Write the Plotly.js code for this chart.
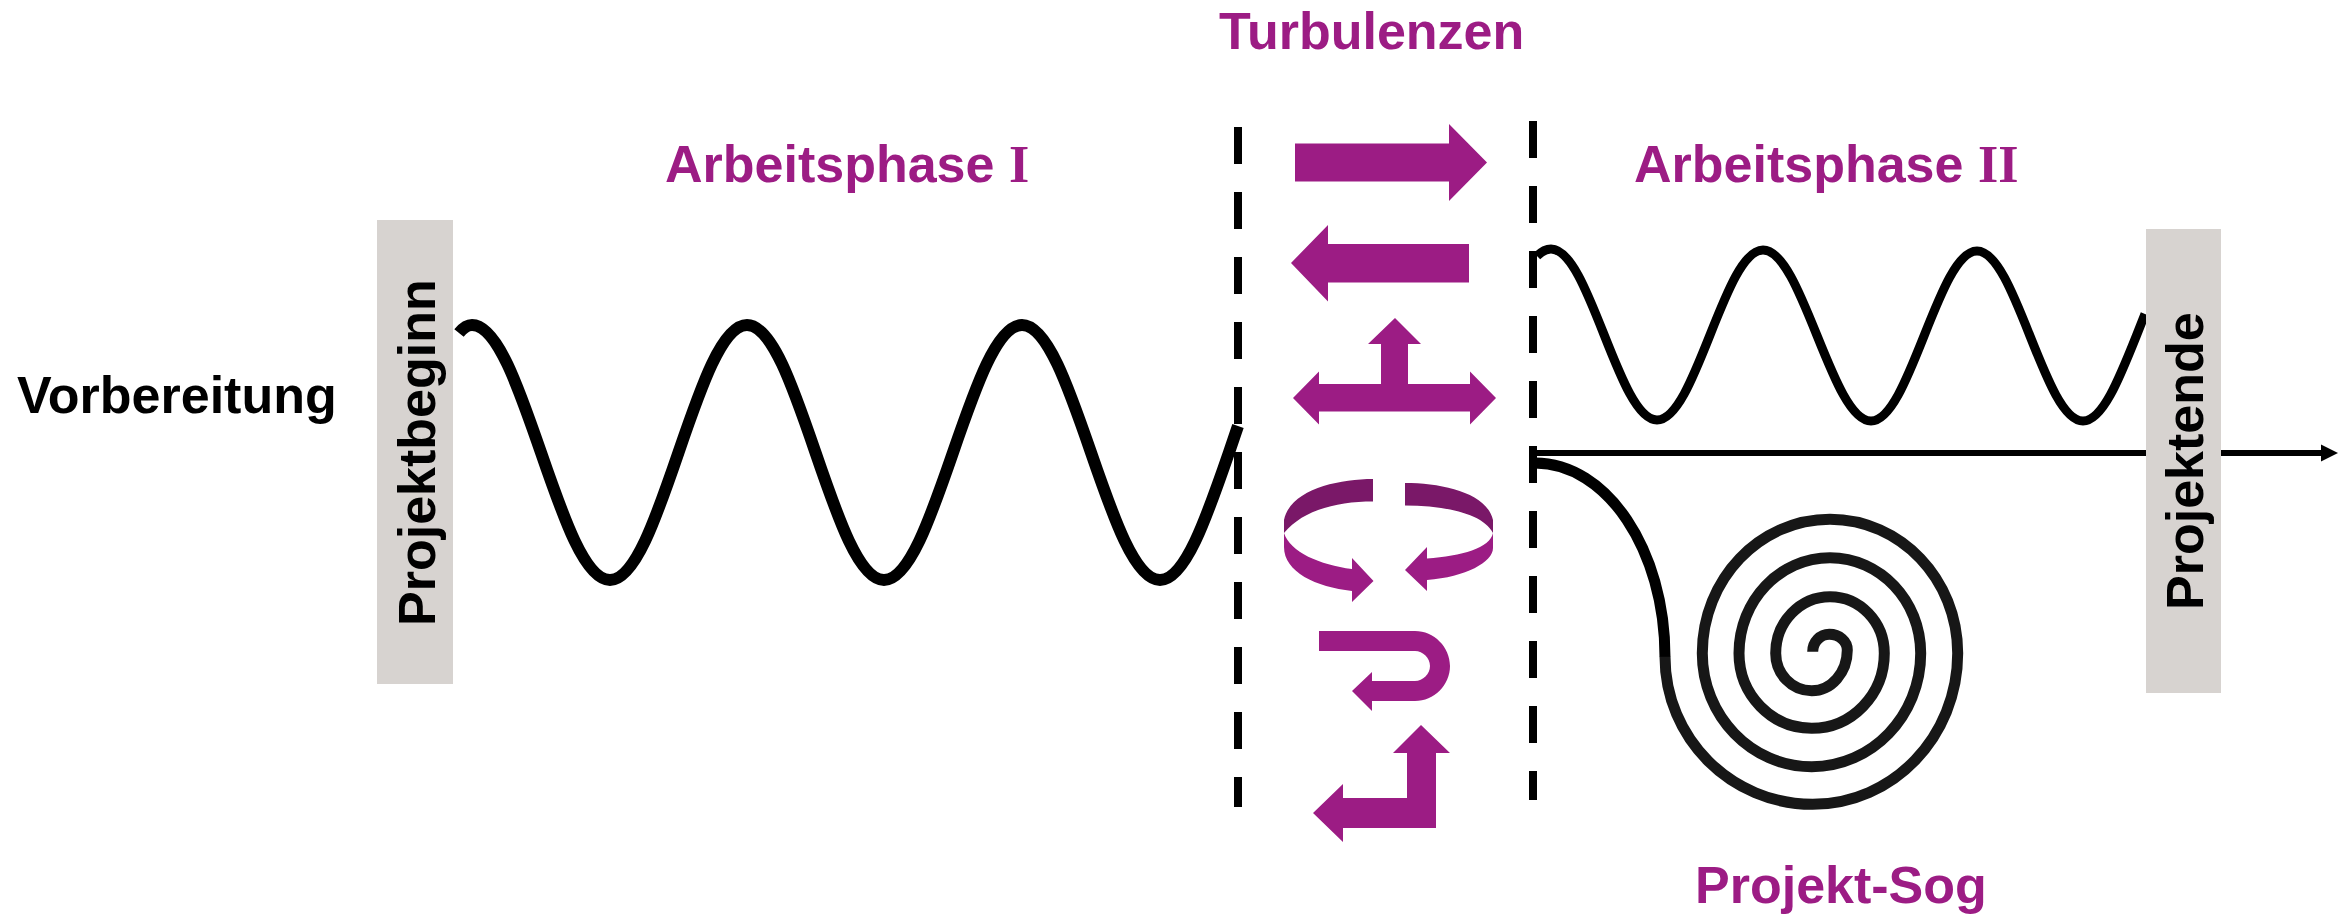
<!DOCTYPE html>
<html><head><meta charset="utf-8">
<script src="https://cdn.plot.ly/plotly-3.0.1.min.js"></script>
<style>html,body{margin:0;padding:0;background:#fff;overflow:hidden}#chart{width:2351px;height:916px}</style>
</head><body><div id="chart"></div>
<script>
// ---- values (pixel space of the 2351x916 canvas) ----
// Arbeitsphase I wave: start, alternating peaks/troughs, last inflection, end
const wave1Start = [459, 333];
const wave1ExtX = [472, 610, 747, 884, 1022, 1160];
const wave1ExtY = [325, 580, 325, 580, 325, 580];
const wave1Tail = [[1229, 452.5], [1238, 426]];
// Arbeitsphase II wave
const wave2Start = [1537, 256];
const wave2ExtX = [1551, 1657, 1763, 1871, 1977, 2083];
const wave2ExtY = [249, 420, 250, 421, 251, 421];
const wave2Tail = [[2136.5, 335.5], [2145, 314]];
// Projekt-Sog: curve from the boundary down into the spiral
const sogX = [1535, 1665];
const sogY = [463, 657];
// spiral: quarter-turn points (left, bottom, right, top, ...)
const spiralX = [1665, 1812.7, 1957.7, 1830, 1702.3, 1811.7, 1920.7, 1830, 1739, 1811.7, 1884.3, 1830, 1775.7, 1811.7, 1847.3, 1829.3, 1812.7];
const spiralY = [656.7, 804.3, 653.3, 519.3, 653.3, 766.7, 653.3, 557.7, 653.3, 728.3, 653.3, 596.7, 653.3, 690.7, 650, 634.3, 651.7];
// Zeitachse (time axis)
const axisStartX = 1533, axisEndX = 2338, axisY = 453;
// Phase boundaries (dashed)
const boundaryX = [1238, 1533];
const boundaryTop = [127, 121];
const boundaryBottom = [807, 800];
// Milestone bars
const barLabels = ['Projektbeginn', 'Projektende'];
const barX0 = [377, 2146], barX1 = [453, 2221], barY0 = [220, 229], barY1 = [684, 693];
const barLabelX = [417, 2185], barLabelY = [453, 461];
// Text labels
const labelTexts = ['Turbulenzen', 'Arbeitsphase <span style="font-family:Liberation Serif, Times New Roman, serif">I</span>',
  'Arbeitsphase <span style="font-family:Liberation Serif, Times New Roman, serif">II</span>', 'Projekt-Sog', 'Vorbereitung'];
const labelX = [1371, 847, 1826, 1841, 177];
const labelY = [31, 164, 164, 885, 395];
const labelColor = ['#9c1c84', '#9c1c84', '#9c1c84', '#9c1c84', '#000000'];
// Turbulence pictograms (outline vertices)
const arrowRight = [[1295,143.5],[1449,143.5],[1449,124],[1487,162.5],[1449,201],[1449,181.5],[1295,181.5]];
const arrowLeft = [[1469,244],[1328,244],[1328,225],[1291,263],[1328,301.5],[1328,282.5],[1469,282.5]];
const arrowT = [[1319,384],[1381,384],[1381,344],[1368,344],[1395,318],[1421,344],[1408,344],[1408,384],[1470,384],[1470,371.5],[1496,398],[1470,424.5],[1470,411.5],[1319,411.5],[1319,424.5],[1293,398],[1319,371.5]];
const arrowL = [[1407,753],[1393,753],[1421,725],[1450,753],[1436,753],[1436,828],[1343,828],[1343,842],[1313,813],[1343,784],[1343,798],[1407,798]];
const rotLeftBack = 'M1373,479 C1337,479 1290,490 1284,520 L1284,533 C1303,510 1337,501.5 1373,501.5 Z';
const rotLeftFront = 'M1284,533 C1290,552 1320,565 1352,569 L1352,558 L1373.5,581 L1352,602 L1352,591 C1316,587 1284,572 1284,547 Z';
const rotRightBack = 'M1405,483 C1443,483 1487,493 1493,520 L1493,533 C1483,513 1443,505.5 1405,505.5 Z';
const rotRightFront = 'M1493,533 C1490,548 1462,556 1427,558.5 L1427,547 L1405,570 L1427,591 L1427,580 C1466,577 1493,562 1493,548 Z';
const uTurn = 'M1319,631 L1415,631 C1434,631 1450,647 1450,666 C1450,685 1434,701 1415,701 L1372,701 L1372,711 L1352,691 L1372,672 L1372,681 L1415,681 C1423,681 1430,674 1430,666 C1430,658 1423,651 1415,651 L1319,651 Z';

const PURPLE = '#9c1c84', PURPLE_DARK = '#7a1868', GRAY = '#d7d3d0';
const K = 0.5523;

function poly(pts){ return 'M' + pts.map(p => p[0] + ',' + p[1]).join(' L') + ' Z'; }
function f(v){ return Math.round(v * 100) / 100; }

// sine-like wave built from extreme points with cubic Bezier quarter segments
function halfToMid(ex, ey, mx, my){
  return ` C${f(ex + 0.3619*(mx-ex))},${f(ey)} ${f(ex + 0.6739*(mx-ex))},${f(my + 0.5123*(ey-my))} ${f(mx)},${f(my)}`;
}
function midToExt(mx, my, ex, ey){
  return ` C${f(mx + 0.3261*(ex-mx))},${f(my + 0.5123*(ey-my))} ${f(mx + 0.6381*(ex-mx))},${f(ey)} ${f(ex)},${f(ey)}`;
}
function wavePath(start, xs, ys, tail){
  let d = `M${start[0]},${start[1]} Q${f((start[0]+xs[0])/2)},${ys[0]} ${xs[0]},${ys[0]}`;
  for (let i = 0; i < xs.length - 1; i++){
    const mx = (xs[i] + xs[i+1]) / 2, my = (ys[i] + ys[i+1]) / 2;
    d += halfToMid(xs[i], ys[i], mx, my) + midToExt(mx, my, xs[i+1], ys[i+1]);
  }
  const n = xs.length - 1;
  d += halfToMid(xs[n], ys[n], tail[0][0], tail[0][1]) + ` L${tail[1][0]},${tail[1][1]}`;
  return d;
}
// spiral: quarter arcs between consecutive points, first point has a vertical tangent
function spiralPath(xs, ys){
  let d = `M${xs[0]},${ys[0]}`;
  for (let i = 0; i < xs.length - 1; i++){
    const px = xs[i], py = ys[i], qx = xs[i+1], qy = ys[i+1];
    if (i % 2 === 0) d += ` C${f(px)},${f(py + K*(qy-py))} ${f(qx + K*(px-qx))},${f(qy)} ${qx},${qy}`;
    else d += ` C${f(px + K*(qx-px))},${f(py)} ${f(qx)},${f(qy + K*(py-qy))} ${qx},${qy}`;
  }
  return d;
}
function sogPath(xs, ys){
  return `M${xs[0]},${ys[0]} C${f(xs[0] + K*(xs[1]-xs[0]))},${ys[0]} ${xs[1]},${f(ys[1] - K*(ys[1]-ys[0]))} ${xs[1]},${ys[1]}`;
}

const shapes = [];
boundaryX.forEach((x, i) => shapes.push({type:'line', xref:'x', yref:'y', x0:x, x1:x, y0:boundaryTop[i], y1:boundaryBottom[i],
  line:{color:'#000', width:8, dash:'37px,28px'}, layer:'above'}));
shapes.push({type:'line', xref:'x', yref:'y', x0:axisStartX, x1:axisEndX-16, y0:axisY, y1:axisY, line:{color:'#000', width:6}, layer:'above'});
shapes.push({type:'path', xref:'x', yref:'y', path: poly([[axisEndX-17,axisY-8.5],[axisEndX,axisY],[axisEndX-17,axisY+8.5]]), fillcolor:'#000', line:{width:0}, layer:'above'});
// curves
shapes.push({type:'path', xref:'x', yref:'y', path: wavePath(wave1Start, wave1ExtX, wave1ExtY, wave1Tail), line:{color:'#000', width:12}, fillcolor:'rgba(0,0,0,0)', layer:'above'});
shapes.push({type:'path', xref:'x', yref:'y', path: wavePath(wave2Start, wave2ExtX, wave2ExtY, wave2Tail), line:{color:'#000', width:9}, fillcolor:'rgba(0,0,0,0)', layer:'above'});
shapes.push({type:'path', xref:'x', yref:'y', path: sogPath(sogX, sogY), line:{color:'#000', width:11}, fillcolor:'rgba(0,0,0,0)', layer:'above'});
shapes.push({type:'path', xref:'x', yref:'y', path: spiralPath(spiralX, spiralY), line:{color:'#171717', width:11}, fillcolor:'rgba(0,0,0,0)', layer:'above'});
// milestone bars
barLabels.forEach((t, i) => shapes.push({type:'rect', xref:'x', yref:'y', x0:barX0[i], x1:barX1[i], y0:barY0[i], y1:barY1[i], fillcolor:GRAY, line:{width:0}, layer:'above'}));
// pictograms
[arrowRight, arrowLeft, arrowT, arrowL].forEach(p => shapes.push({type:'path', xref:'x', yref:'y', path:poly(p), fillcolor:PURPLE, line:{width:0}, layer:'above'}));
[rotLeftFront, rotRightFront, uTurn].forEach(p => shapes.push({type:'path', xref:'x', yref:'y', path:p, fillcolor:PURPLE, line:{width:0}, layer:'above'}));
[rotLeftBack, rotRightBack].forEach(p => shapes.push({type:'path', xref:'x', yref:'y', path:p, fillcolor:PURPLE_DARK, line:{width:0}, layer:'above'}));

const FONT = 'Liberation Sans, Arial, Helvetica, sans-serif';
const annotations = labelTexts.map((t, i) => ({x:labelX[i], y:labelY[i], xref:'x', yref:'y', text:'<b>' + t + '</b>', showarrow:false,
  xanchor:'center', yanchor:'middle', font:{family:FONT, size:52, color:labelColor[i]}}));
barLabels.forEach((t, i) => annotations.push({x:barLabelX[i], y:barLabelY[i], xref:'x', yref:'y', text:'<b>' + t + '</b>', textangle:-90,
  showarrow:false, font:{family:FONT, size:52, color:'#000'}}));

const layout = {
  width:2351, height:916, margin:{l:0, r:0, t:0, b:0, pad:0},
  paper_bgcolor:'#fff', plot_bgcolor:'#fff', showlegend:false,
  xaxis:{range:[0,2351], visible:false, fixedrange:true},
  yaxis:{range:[916,0], visible:false, fixedrange:true},
  shapes:shapes, annotations:annotations
};
Plotly.newPlot('chart', [], layout, {staticPlot:true, displayModeBar:false});
</script>
</body></html>
